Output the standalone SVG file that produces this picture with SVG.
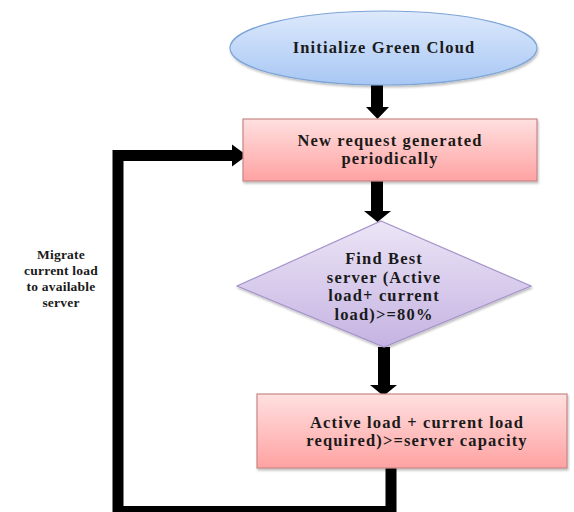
<svg xmlns="http://www.w3.org/2000/svg" width="574" height="512" viewBox="0 0 574 512">
  <style>
    .label { font-family: "Liberation Serif", "Times New Roman", serif; font-weight: bold; fill: #1a1a1a; text-anchor: middle; }
    .big { font-size: 16.5px; letter-spacing: 1.15px; }
    .small { font-size: 13.5px; letter-spacing: 0.2px; }
    .proc { fill: url(#pinkFill); stroke: #c98686; stroke-width: 1.2; filter: url(#shadow); }
    .flow { fill: #000; }
    .loop { fill: none; stroke: #000; stroke-width: 11; stroke-linejoin: miter; }
  </style>
  <defs>
    <linearGradient id="blueFill" x1="0" y1="0" x2="0" y2="1">
      <stop offset="0" stop-color="#dde9fc"/>
      <stop offset="1" stop-color="#a8c7f4"/>
    </linearGradient>
    <linearGradient id="pinkFill" x1="0" y1="0" x2="0" y2="1">
      <stop offset="0" stop-color="#ffe0e0"/>
      <stop offset="1" stop-color="#ffa2a2"/>
    </linearGradient>
    <linearGradient id="lilacFill" x1="0" y1="0" x2="0" y2="1">
      <stop offset="0" stop-color="#ece5f6"/>
      <stop offset="1" stop-color="#c5b3e2"/>
    </linearGradient>
    <filter id="shadow" x="-5%" y="-10%" width="110%" height="125%">
      <feDropShadow dx="1" dy="2" stdDeviation="1.2" flood-color="#000" flood-opacity="0.25"/>
    </filter>
  </defs>

  <!-- connectors -->
  <g id="connectors">
    <polygon class="flow" points="371,85 383,85 383,107 389,107 377.5,119 366,107 371,107"/>
    <polygon class="flow" points="371,180 383,180 383,211 391,211 377.5,222 364,211 371,211"/>
    <polygon class="flow" points="378,347 390,347 390,385 397,385 383.5,396 370,385 378,385"/>
    <polyline class="loop" points="391,468 391,511.5 118,511.5 118,155.5 233,155.5"/>
    <polygon class="flow" points="232,144.5 247,155.5 232,166.5"/>
  </g>

  <g id="start">
    <ellipse cx="383.5" cy="48" rx="153.5" ry="37" fill="url(#blueFill)" stroke="#7ea5d8" stroke-width="1.2" filter="url(#shadow)"/>
    <text class="label big" x="384" y="53">Initialize Green Cloud</text>
  </g>

  <g id="new-request">
    <rect class="proc" x="243" y="119" width="294" height="62"/>
    <text class="label big" x="390" y="146">New request generated</text>
    <text class="label big" x="390" y="164">periodically</text>
  </g>

  <g id="find-best">
    <polygon points="381,221 531,286 384,347 237,286" fill="url(#lilacFill)" stroke="#a593cb" stroke-width="1.2" filter="url(#shadow)"/>
    <text class="label big" x="384" y="264">Find Best</text>
    <text class="label big" x="384" y="282.5">server (Active</text>
    <text class="label big" x="384" y="301">load+ current</text>
    <text class="label big" x="384" y="319.5">load)&gt;=80%</text>
  </g>

  <g id="capacity-check">
    <rect class="proc" x="257" y="394" width="310" height="74"/>
    <text class="label big" x="417" y="428">Active load + current load</text>
    <text class="label big" x="417" y="446">required)&gt;=server capacity</text>
  </g>

  <g id="migrate-label">
    <text class="label small" x="61" y="259">Migrate</text>
    <text class="label small" x="61" y="275">current load</text>
    <text class="label small" x="61" y="291">to available</text>
    <text class="label small" x="61" y="307">server</text>
  </g>
</svg>
